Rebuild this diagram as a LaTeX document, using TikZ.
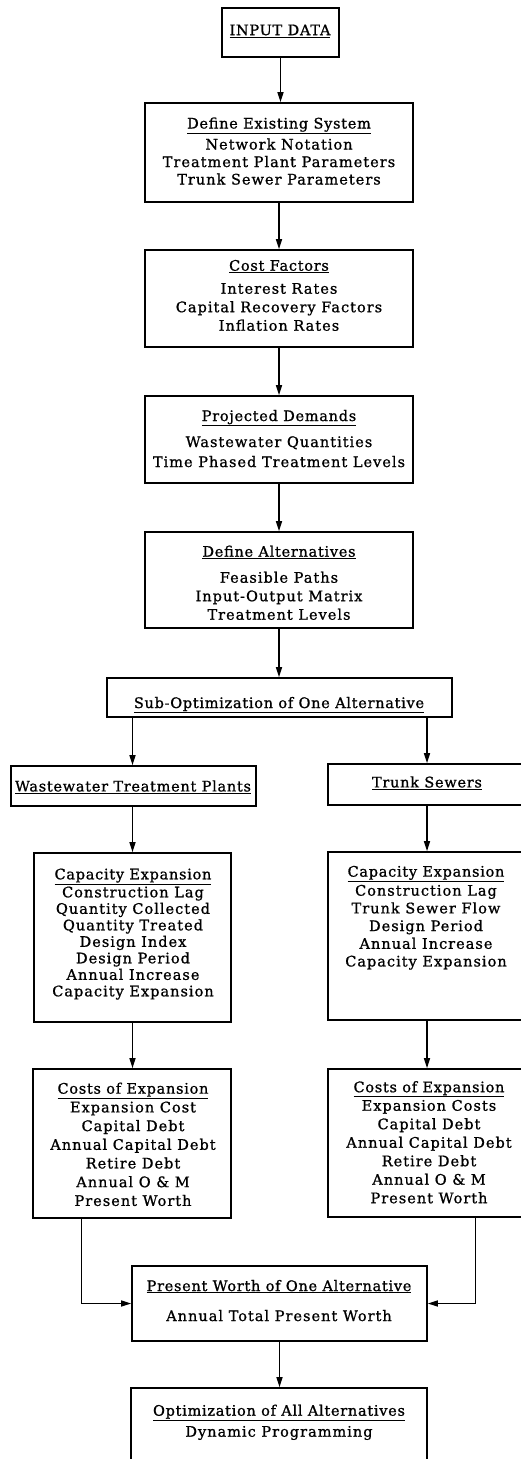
\documentclass[tikz,border=0pt]{standalone}
\usepackage{fontspec}
\usetikzlibrary{arrows.meta,calc}
\newfontfamily\chartfont[LetterSpace=7,FakeBold=1]{DejaVu Serif}
\newfontfamily\headfont[LetterSpace=5,FakeBold=1]{DejaVu Serif}
\newcommand\ttl[1]{{\headfont\underline{#1}}}
\tikzset{
  box/.style={draw, line width=1.6pt, inner sep=0pt},
  lbl/.style={font=\chartfont\fontsize{14.5}{#1}\selectfont, align=center, inner sep=0pt},
  lbl/.default=17.5,
  arr/.style={line width=1.4pt, -{Triangle[length=10pt,width=6pt]}}
}
\begin{document}
\begin{tikzpicture}[x=1pt,y=-1pt]
\useasboundingbox (0,0) rectangle (521,1459);
\clip (0,0) rectangle (521,1459);

% main column boxes
\node[box, minimum width=117pt, minimum height=49pt] (inp) at (280.5,32.5) {};
\node[box, minimum width=268pt, minimum height=99pt] (des) at (279,152.5) {};
\node[box, minimum width=268pt, minimum height=97pt] (cf)  at (279,298.5) {};
\node[box, minimum width=268pt, minimum height=87pt] (pd)  at (279,439.5) {};
\node[box, minimum width=268pt, minimum height=96pt] (da)  at (279,580) {};
\node[box, minimum width=345pt, minimum height=39pt] (sub) at (279.5,697.5) {};

% two branches
\node[box, minimum width=245pt, minimum height=40pt]  (wtp)   at (133.5,786) {};
\node[box, minimum width=198pt, minimum height=41pt]  (ts)    at (427,784.5) {};
\node[box, minimum width=197pt, minimum height=169pt] (capl)  at (132.5,937.5) {};
\node[box, minimum width=198pt, minimum height=168pt] (capr)  at (427,936) {};
\node[box, minimum width=198pt, minimum height=149pt] (costl) at (132,1143.5) {};
\node[box, minimum width=198pt, minimum height=148pt] (costr) at (427,1143) {};

% totals
\node[box, minimum width=295pt, minimum height=75pt] (pw)  at (279.5,1303.5) {};
\node[box, minimum width=296pt, minimum height=87pt] (opt) at (279,1431.5) {};

% box texts
\node[lbl] (inp-t) at (280,31) {\ttl{INPUT DATA}};
\node[lbl=17.5] (des-t) at (279,153) {\strut\ttl{Define Existing System}\\[3.5pt]
  Network Notation\\ Treatment Plant Parameters\\ Trunk Sewer Parameters\strut};
\node[lbl=18.5] (cf-t) at (279,297) {\strut\ttl{Cost Factors}\\[4.5pt]
  Interest Rates\\ Capital Recovery Factors\\ Inflation Rates\strut};
\node[lbl=20] (pd-t) at (279,440) {\strut\ttl{Projected Demands}\\[6pt]
  Wastewater Quantities\\ Time Phased Treatment Levels\strut};
\node[lbl=18.5] (da-t) at (279,584.5) {\strut\ttl{Define Alternatives}\\[7.5pt]
  Feasible Paths\\ Input-Output Matrix\\ Treatment Levels\strut};
\node[lbl] (sub-t) at (279,705) {\ttl{Sub-Optimization of One Alternative}};
\node[lbl] (wtp-t) at (133,787) {\ttl{Wastewater Treatment Plants}};
\node[lbl] (ts-t) at (427,783) {\ttl{Trunk Sewers}};
\node[lbl=16.5] (capl-t) at (133,934.5) {\strut\ttl{Capacity Expansion}\\[1.5pt]
  Construction Lag\\ Quantity Collected\\ Quantity Treated\\ Design Index\\
  Design Period\\ Annual Increase\\ Capacity Expansion\strut};
\node[lbl=17.7] (capr-t) at (426,918) {\strut\ttl{Capacity Expansion}\\[1.3pt]
  Construction Lag\\ Trunk Sewer Flow\\ Design Period\\ Annual Increase\\
  Capacity Expansion\strut};
\node[lbl=18.7] (costl-t) at (133,1146) {\strut\ttl{Costs of Expansion}\\
  Expansion Cost\\ Capital Debt\\ Annual Capital Debt\\ Retire Debt\\
  Annual O \& M\\ Present Worth\strut};
\node[lbl=18.5] (costr-t) at (429,1144) {\strut\ttl{Costs of Expansion}\\
  Expansion Costs\\ Capital Debt\\ Annual Capital Debt\\ Retire Debt\\
  Annual O \& M\\ Present Worth\strut};
\node[lbl=20] (pw-t) at (279,1302) {\strut\ttl{Present Worth of One Alternative}\\[10pt]
  Annual Total Present Worth\strut};
\node[lbl=21] (opt-t) at (279,1422) {\strut\ttl{Optimization of All Alternatives}\\
  Dynamic Programming\strut};

% connectors
\draw[arr] (inp.south) -- (inp.south |- des.north);
\draw[arr] (des.south) -- (cf.north);
\draw[arr] (cf.south) -- (pd.north);
\draw[arr] (pd.south) -- (da.north);
\draw[arr] (da.south) -- (da.south |- sub.north);
\draw[arr] (capl.north |- sub.south) -- (capl.north |- wtp.north);
\draw[arr] (ts.north |- sub.south) -- (ts.north);
\draw[arr] (capl.north |- wtp.south) -- (capl.north);
\draw[arr] (ts.south) -- (capr.north);
\draw[arr] (capl.south) -- (capl.south |- costl.north);
\draw[arr] (capr.south) -- (costr.north);
\coordinate (cl) at ([xshift=49.5pt]costl.south west);
\coordinate (cr) at ([xshift=148pt]costr.south west);
\draw[arr] (cl) |- (pw.west);
\draw[arr] (cr) |- (pw.east);
\draw[arr] (pw.south) -- (pw.south |- opt.north);
\end{tikzpicture}
\end{document}
